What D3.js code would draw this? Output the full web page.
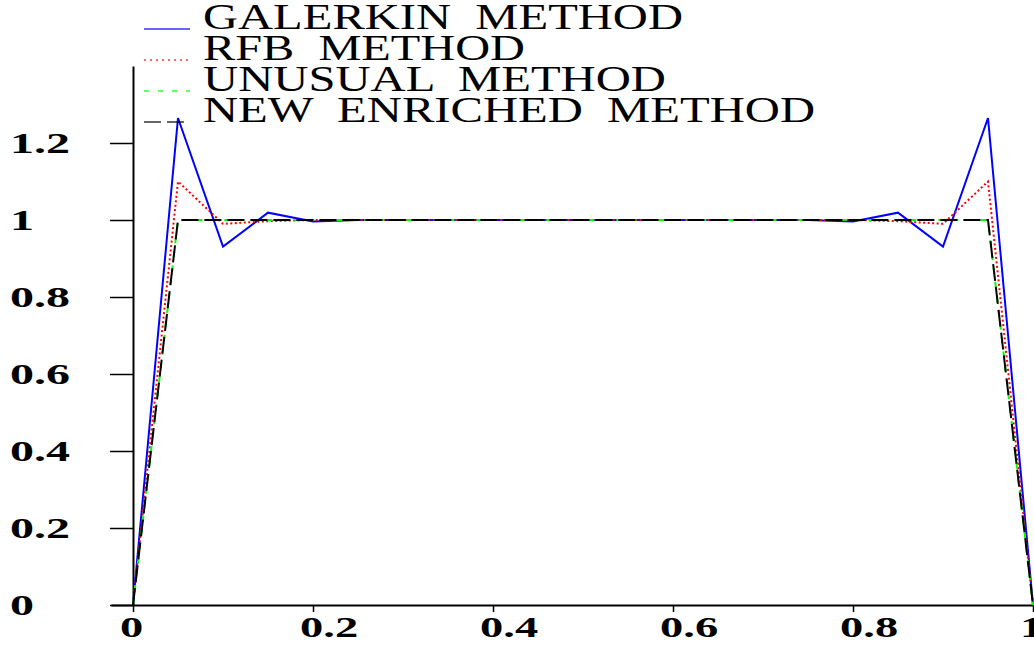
<!DOCTYPE html>
<html>
  <head>
    <script src="https://d3js.org/d3.v7.min.js"></script>
    <style>
      body { margin: 0; background: white; }
      .axis path, .axis line { stroke: black; }
      .axis path { stroke-width: 2; }
      .axis line { stroke-width: 1.5; }
      .tick-label { font-family: "Liberation Serif", "Times New Roman", serif; font-weight: bold; font-size: 30px; fill: black; }
      .legend-label { font-family: "Liberation Serif", "Times New Roman", serif; font-size: 35px; fill: black; }
    </style>
  </head>
  <body>
    <svg id="chart" width="1034" height="645"></svg>
    <script>
      // mesh nodes, h = 0.05
      var xNodes = [0, 0.05, 0.1, 0.15, 0.2, 0.25, 0.3, 0.35, 0.4, 0.45, 0.5,
                    0.55, 0.6, 0.65, 0.7, 0.75, 0.8, 0.85, 0.9, 0.95, 1];
      var galerkin = [0, 1.265, 0.931, 1.019, 0.996, 1.0, 1.0, 1.0, 1.0, 1.0, 1.0,
                      1.0, 1.0, 1.0, 1.0, 1.0, 0.996, 1.019, 0.931, 1.265, 0];
      var rfb = [0, 1.10, 0.99, 0.997, 1.0, 1.0, 1.0, 1.0, 1.0, 1.0, 1.0,
                 1.0, 1.0, 1.0, 1.0, 1.0, 1.0, 0.997, 0.99, 1.10, 0];
      var unusual = [0, 1, 1, 1, 1, 1, 1, 1, 1, 1, 1,
                     1, 1, 1, 1, 1, 1, 1, 1, 1, 0];
      var enriched = [0, 1, 1, 1, 1, 1, 1, 1, 1, 1, 1,
                      1, 1, 1, 1, 1, 1, 1, 1, 1, 0];
      var methodNames = ["GALERKIN  METHOD", "RFB  METHOD", "UNUSUAL  METHOD", "NEW  ENRICHED  METHOD"];
      var xTicks = [0, 0.2, 0.4, 0.6, 0.8, 1];
      var yTicks = [0, 0.2, 0.4, 0.6, 0.8, 1, 1.2];
      var xTickLabels = ["0", "0.2", "0.4", "0.6", "0.8", "1"];
      var yTickLabels = ["0", "0.2", "0.4", "0.6", "0.8", "1", "1.2"];

      var series = [
        { values: galerkin, color: "#0000ff", dash: null, legendDash: null },
        { values: rfb, color: "#ff0000", dash: "2,2.5", legendDash: "2,4" },
        { values: unusual, color: "#00ff00", dash: "6,8", legendDash: "5,9" },
        { values: enriched, color: "#000000", dash: "17,6", legendDash: "17,6" }
      ];
      // legend text widths as they appear in the original (stretched export)
      var legendWidths = [480, 322, 463, 612];

      var svg = d3.select("#chart");

      var x = d3.scaleLinear().domain([0, 1]).range([133, 1033]);
      var y = d3.scaleLinear().domain([0, 1]).range([605, 220]);

      // the frame lines run a bit past the data range
      var xFrame = x.copy().domain([-0.0245, 1.002]).range([x(-0.0245), x(1.002)]);
      var yFrame = y.copy().domain([0, 1.4]).range([y(0), y(1.4)]);

      var xAxis = d3.axisBottom(xFrame).tickValues(xTicks).tickSize(7).tickSizeOuter(0).tickFormat("");
      var yAxis = d3.axisLeft(yFrame).tickValues(yTicks).tickSize(23).tickSizeOuter(0).tickFormat("");

      svg.append("g").attr("class", "axis").attr("transform", "translate(0," + y(0) + ")").call(xAxis);
      svg.append("g").attr("class", "axis").attr("transform", "translate(" + x(0) + ",0)").call(yAxis);

      // stretched serif labels, like the original export
      function stretch(sel, factor) {
        sel.each(function() {
          var w = this.getComputedTextLength();
          d3.select(this).attr("textLength", w * factor).attr("lengthAdjust", "spacingAndGlyphs");
        });
      }

      svg.append("g").selectAll("text")
        .data(xTicks)
        .join("text")
        .attr("class", "tick-label")
        .attr("x", function(d) { return x(d) - 13; })
        .attr("y", 637)
        .text(function(d, i) { return xTickLabels[i]; })
        .call(stretch, 1.55);

      svg.append("g").selectAll("text")
        .data(yTicks)
        .join("text")
        .attr("class", "tick-label")
        .attr("x", 10)
        .attr("y", function(d) { return y(d) + 10; })
        .text(function(d, i) { return yTickLabels[i]; })
        .call(stretch, 1.6);

      var line = d3.line()
        .x(function(d, i) { return x(xNodes[i]); })
        .y(function(d) { return y(d); });

      svg.append("g").selectAll("path")
        .data(series)
        .join("path")
        .attr("d", function(s) { return line(s.values); })
        .attr("fill", "none")
        .attr("stroke", function(s) { return s.color; })
        .attr("stroke-width", 2)
        .attr("stroke-dasharray", function(s) { return s.dash; });

      var legend = svg.append("g").selectAll("g")
        .data(series)
        .join("g")
        .attr("transform", function(s, i) { return "translate(0," + (29 + i * 31) + ")"; });

      legend.append("line")
        .attr("x1", 144).attr("x2", 190)
        .attr("stroke", function(s) { return s.color; })
        .attr("stroke-opacity", 0.6)
        .attr("stroke-width", 2)
        .attr("stroke-dasharray", function(s) { return s.legendDash; });

      legend.append("text")
        .attr("class", "legend-label")
        .attr("xml:space", "preserve")
        .attr("x", 203)
        .attr("y", 0)
        .attr("textLength", function(s, i) { return legendWidths[i]; })
        .attr("lengthAdjust", "spacingAndGlyphs")
        .text(function(s, i) { return methodNames[i]; });
    </script>
  </body>
</html>
